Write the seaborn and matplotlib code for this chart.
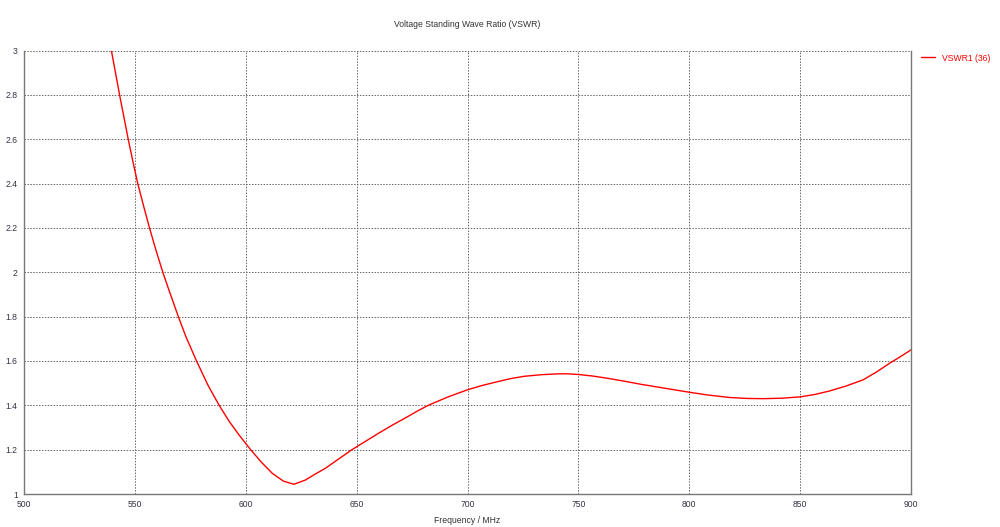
import matplotlib
matplotlib.use("Agg")
import matplotlib.pyplot as plt
import seaborn as sns
import pandas as pd

# ── Data ─────────────────────────────────────────────────────────────
freq_mhz = [539.4, 541.0, 543.1, 547.0, 549.1, 551.3, 553.9, 556.6, 559.5,
            562.6, 565.0, 569.6, 573.0, 577.8, 583.0, 588.0, 592.5, 597.0,
            602.2, 607.0, 612.0, 617.0, 621.7, 626.9, 631.0, 635.9, 641.9,
            647.9, 653.9, 659.9, 665.8, 671.8, 677.0, 682.3, 691.0, 700.0,
            706.8, 713.7, 719.7, 725.7, 733.2, 740.7, 745.3, 750.0, 756.5,
            763.1, 770.6, 778.1, 789.0, 800.0, 808.0, 813.2, 818.4, 826.0,
            833.4, 841.7, 850.0, 856.7, 863.4, 871.0, 878.4, 884.4, 890.4,
            895.0, 900.0]
vswr = [3.0, 2.914, 2.8, 2.6, 2.5, 2.4, 2.3, 2.2, 2.1,
        2.0, 1.93, 1.8, 1.71, 1.6, 1.49, 1.4, 1.328, 1.266,
        1.2, 1.144, 1.093, 1.058, 1.044, 1.063, 1.088, 1.116, 1.158,
        1.2, 1.237, 1.274, 1.309, 1.342, 1.372, 1.4, 1.437, 1.47,
        1.49, 1.507, 1.521, 1.531, 1.538, 1.542, 1.542, 1.539, 1.532,
        1.522, 1.509, 1.495, 1.477, 1.459, 1.447, 1.441, 1.435, 1.431,
        1.43, 1.432, 1.438, 1.449, 1.465, 1.488, 1.515, 1.55, 1.59,
        1.618, 1.65]
x_ticks = [500, 550, 600, 650, 700, 750, 800, 850, 900]
y_ticks = [1, 1.2, 1.4, 1.6, 1.8, 2, 2.2, 2.4, 2.6, 2.8, 3]
series_name = "VSWR1 (36)"

df = pd.DataFrame({"freq": freq_mhz, "vswr": vswr, "series": series_name})

sns.set_style("white")
plt.rcParams["font.family"] = ["Liberation Sans", "DejaVu Sans"]

fig = plt.figure(figsize=(10, 5.27), dpi=100)
ax = fig.add_axes([0.024, 0.0626, 0.887, 0.8415])

sns.lineplot(data=df, x="freq", y="vswr", hue="series", palette=["#ff0000"],
             linewidth=1.0, ax=ax, legend=True, sort=False)

ax.set_xlim(500, 900)
ax.set_ylim(1, 3)
ax.set_xticks(x_ticks)
ax.set_yticks(y_ticks)
ax.set_xticklabels([str(t) for t in x_ticks])
ax.set_yticklabels([f"{t:g}" for t in y_ticks])
ax.tick_params(axis="both", labelsize=6.2, colors="#666666", length=3,
               width=0.8, direction="out", labelcolor="#333344", pad=1.5)
ax.grid(True, linestyle=(0, (1.5, 1.5)), color="#666666", linewidth=0.7)

for side in ["left", "bottom", "right"]:
    ax.spines[side].set_color("#777777")
    ax.spines[side].set_linewidth(1.0)
ax.spines["top"].set_visible(False)

ax.set_xlabel("Frequency / MHz", fontsize=6.2, color="#333333", labelpad=4.5)
ax.set_ylabel("")
fig.text(0.467, 0.954, "Voltage Standing Wave Ratio (VSWR)", fontsize=6.2,
         color="#333333", ha="center", va="center")

leg = ax.legend(loc="upper left", bbox_to_anchor=(0.918, 0.905),
                bbox_transform=fig.transFigure, frameon=False, fontsize=6.2,
                handlelength=1.6, handletextpad=0.8, borderaxespad=0)
for t in leg.get_texts():
    t.set_color("#ff0000")

fig.savefig("out.png", dpi=100)
